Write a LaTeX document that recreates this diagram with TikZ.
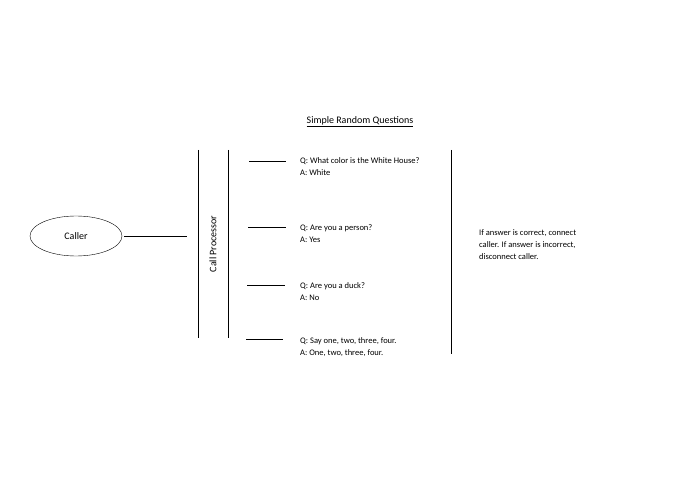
\documentclass[tikz,border=0pt]{standalone}
\usepackage{fontspec}
\setmainfont{Carlito}
\usetikzlibrary{positioning,shapes.geometric}
\tikzset{qa/.style={anchor=north west, align=left, inner sep=0pt, font=\fontsize{8.5}{12}\selectfont}}

\begin{document}
\begin{tikzpicture}[x=1pt,y=-1pt]
        \useasboundingbox (0,0) rectangle (695,494);

        \node (title) at (360,122) {\fontsize{10}{12}\selectfont\underline{Simple Random Questions}};
        \node (caller) at (76,236) [draw, ellipse, minimum width=92pt, minimum height=40pt, font=\fontsize{10}{12}\selectfont] {Caller};
        \coordinate (cin) at (187,236);
        \draw (caller.east) ++(2,0) -- (cin);

        \coordinate (p1) at (198,150); \coordinate (p2) at (198,338);
        \coordinate (p3) at (228,150); \coordinate (p4) at (228,338);
        \draw (p1) -- (p2) (p3) -- (p4);
        \node (proc) at (213,244) [rotate=90, font=\fontsize{10}{12}\selectfont] {Call Processor};

        \coordinate (a1) at (249,161); \coordinate (b1) at (286,161);
        \coordinate (a2) at (248,227); \coordinate (b2) at (286,227);
        \coordinate (a3) at (247,285); \coordinate (b3) at (285,285);
        \coordinate (a4) at (246,339); \coordinate (b4) at (283,339);
        \draw (a1) -- (b1) (a2) -- (b2) (a3) -- (b3) (a4) -- (b4);

        \node (q1) at (300,157) [qa] {Q: What color is the White House?\\A: White};
        \node (q2) at (300,224) [qa] {Q: Are you a person?\\A: Yes};
        \node (q3) at (300,282) [qa] {Q: Are you a duck?\\A: No};
        \node (q4) at (300,337) [qa] {Q: Say one, two, three, four.\\A: One, two, three, four.};

        \coordinate (r1) at (451,150); \coordinate (r2) at (451,354);
        \draw (r1) -- (r2);

        \node (rule) at (479,229) [qa] {If answer is correct, connect\\caller. If answer is incorrect,\\disconnect caller.};
\end{tikzpicture}
\end{document}
